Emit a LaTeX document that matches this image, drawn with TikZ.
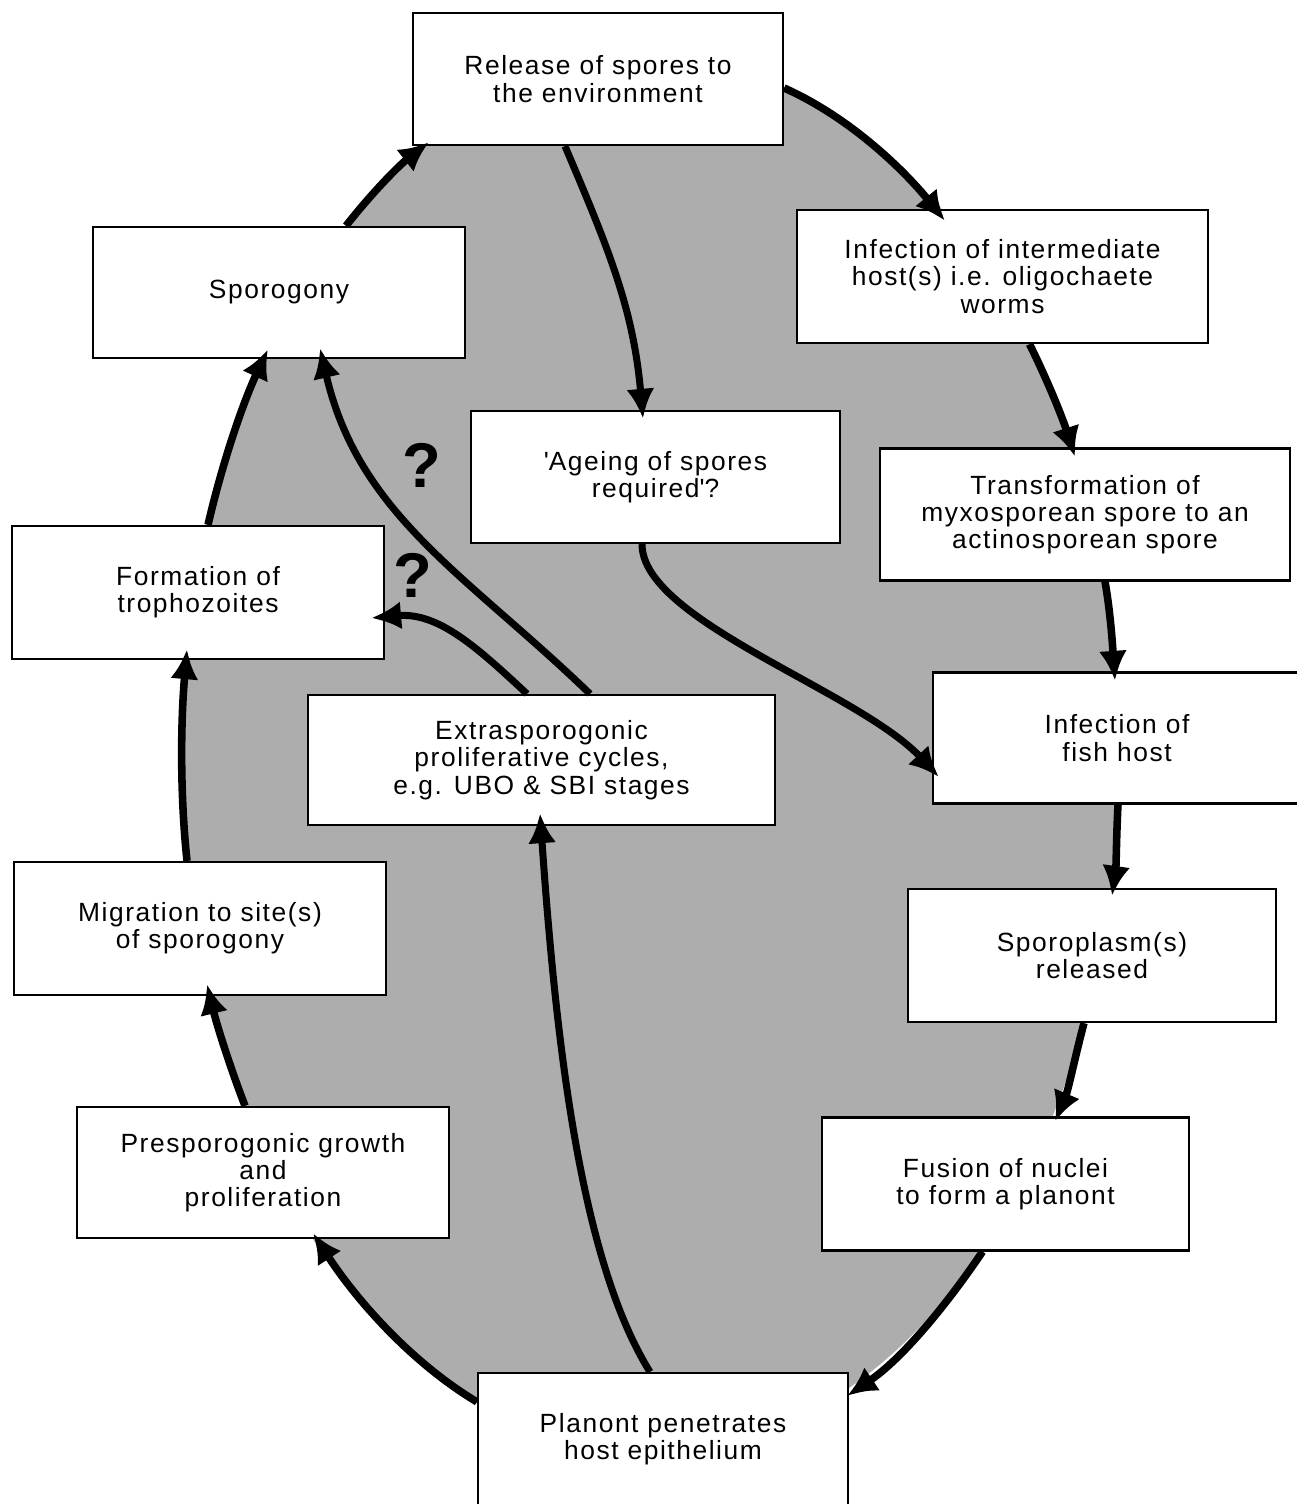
\documentclass[tikz,border=0pt]{standalone}
\usepackage{fontspec}
\setmainfont{Liberation Sans}[LetterSpace=6]
\usepackage{tikz}
\usetikzlibrary{arrows.meta, calc}
\definecolor{stipple}{gray}{0.68}
\tikzset{
	stage/.style={draw, fill=white, line width=1.3pt, align=center, inner sep=2pt,
		minimum height=2.64cm, font=\fontsize{15}{15.5}\selectfont},
	rim/.style={line width=4.3pt, -{Latex[length=0.6cm,width=0.56cm]}, looseness=0.85},
	branch/.style={line width=4pt, -{Latex[length=0.6cm,width=0.56cm]}},
	query/.style={inner sep=0pt, font=\fontsize{36}{36}\selectfont\bfseries}
}
\begin{document}
\begin{tikzpicture}[x=0.02cm, y=0.02cm]

	\useasboundingbox (0,0) rectangle (1296,-1504);

	% shaded body of the cycle
	\fill[stipple] (651,-756) ellipse [x radius=469, y radius=697];

	\node[stage, minimum width=7.4cm] (rel) at (598,-79) {Release of spores to\\the environment};
	\node[stage, minimum width=8.22cm, minimum height=2.66cm] (inf) at (1002.5,-276.5) {Infection of intermediate\\host(s) i.e. oligochaete\\worms};
	\node[stage, minimum width=7.44cm, minimum height=2.62cm] (spg) at (279,-292.5) {Sporogony};
	\node[stage, minimum width=7.38cm] (age) at (655.5,-477) {\textquotesingle Ageing of spores\\required\textquotesingle ?};
	\node[stage, minimum width=8.2cm] (trn) at (1085,-514.5) {Transformation of\\myxosporean spore to an\\actinosporean spore};
	\node[stage, minimum width=7.44cm, minimum height=2.66cm] (tro) at (198,-592.5) {Formation of\\trophozoites};
	\node[stage, minimum width=7.36cm, minimum height=2.62cm] (fish) at (1117,-738) {Infection of\\fish host};
	\node[stage, minimum width=9.34cm, minimum height=2.6cm] (ext) at (541.5,-760) {Extrasporogonic\\proliferative cycles,\\e.g. UBO \& SBI stages};
	\node[stage, minimum width=7.44cm, minimum height=2.66cm] (mig) at (200,-928.5) {Migration to site(s)\\of sporogony};
	\node[stage, minimum width=7.36cm, minimum height=2.66cm] (spl) at (1092,-955.5) {Sporoplasm(s)\\released};
	\node[stage, minimum width=7.44cm, minimum height=2.62cm] (pre) at (263,-1172.5) {Presporogonic growth\\and\\proliferation};
	\node[stage, minimum width=7.34cm, minimum height=2.66cm] (fus) at (1005.5,-1184) {Fusion of nuclei\\to form a planont};
	\node[stage, minimum width=7.4cm] (pla) at (663,-1439) {Planont penetrates\\host epithelium};

	% main cycle, clockwise round the ellipse
	\draw[rim] ($ (rel.east)+(0,-9) $) to[out=-24, in=129] ($ (inf.north)+(-57.5,-12) $);
	\draw[rim] ($ (inf.south)+(27,0) $) to[out=-63.5, in=107.7] ($ (trn.north)+(-10,-9.5) $);
	\draw[rim] ($ (trn.south)+(20,0) $) to[out=-80, in=94] ($ (fish.north)+(-2,-9.5) $);
	\draw[rim] ($ (fish.south)+(1,0) $) to[out=-93, in=82] ($ (spl.north)+(20,-8) $);
	\draw[rim] ($ (spl.south)+(-8,0) $) to[out=-105, in=67] ($ (fus.north)+(49.5,-5) $);
	\draw[rim] ($ (fus.south)+(-23,0) $) to[out=-124, in=34] ($ (pla.north east)+(-2,-24) $);
	\draw[rim] ($ (pla.north west)+(0,-30) $) to[out=149, in=-57] ($ (pre.south)+(50,6) $);
	\draw[rim] ($ (pre.north)+(-18,0) $) to[out=111, in=-76.5] ($ (mig.south)+(7,12) $);
	\draw[rim] ($ (mig.north)+(-13,0) $) to[out=96, in=-95] ($ (tro.south)+(-11,11) $);
	\draw[rim] ($ (tro.north)+(10,0) $) to[out=77, in=-115] ($ (spg.south)+(-11,10) $);
	\draw[rim] ($ (spg.north)+(67,0) $) to[out=52, in=-142] ($ (rel.south west)+(17,4) $);

	% short cuts across the middle
	\draw[branch] ($ (rel.south)+(-33,0) $) to[out=-67, in=95] ($ (age.north)+(-12.5,-9) $);
	\draw[branch] ($ (age.south)+(-13.5,0) $) to[out=-90, in=133, out looseness=0.52, in looseness=0.8] ($ (fish.west)+(7,-39) $);
	\draw[branch] ($ (ext.north)+(48.5,0) $) to[out=136, in=-77] ($ (spg.south)+(41,11) $);
	\draw[branch] ($ (ext.north)+(-14.5,0) $) to[out=137, in=5] ($ (tro.east)+(-14,-25.5) $);
	\draw[branch] ($ (pla.north)+(-13,0) $) to[out=122, in=-86, out looseness=0.6] ($ (ext.south)+(-1.5,13) $);

	\node[query] (q1) at (422,-465) {?};
	\node[query] (q2) at (413,-575) {?};

\end{tikzpicture}
\end{document}
